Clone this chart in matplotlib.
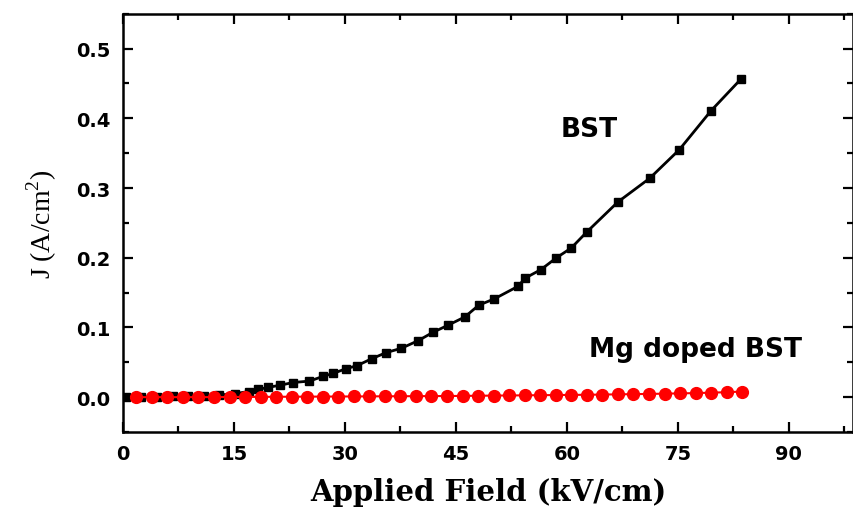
import matplotlib.pyplot as plt
from matplotlib.ticker import MultipleLocator

plt.rcParams['mathtext.fontset'] = 'custom'
plt.rcParams['mathtext.rm'] = 'Liberation Serif'

# BST leakage current density
bst_field = [0.4, 2.5, 4.6, 6.7, 8.8, 10.9, 13.0, 15.1, 17.0, 18.3, 19.6, 21.2,
             23.0, 25.2, 27.1, 28.4, 30.2, 31.6, 33.6, 35.6, 37.6, 39.9, 41.9,
             43.9, 46.2, 48.1, 50.2, 53.4, 54.4, 56.5, 58.6, 60.6, 62.7, 66.9,
             71.2, 75.2, 79.5, 83.5]
bst_j = [0.000, 0.000, 0.0005, 0.001, 0.0015, 0.002, 0.003, 0.005, 0.008, 0.011,
         0.014, 0.017, 0.021, 0.023, 0.030, 0.034, 0.041, 0.045, 0.055, 0.064,
         0.070, 0.081, 0.093, 0.103, 0.115, 0.132, 0.141, 0.159, 0.171, 0.183,
         0.200, 0.214, 0.237, 0.280, 0.314, 0.355, 0.411, 0.456]

# Mg doped BST
mg_field = [1.8, 3.9, 6.0, 8.1, 10.2, 12.3, 14.4, 16.5, 18.6, 20.7, 22.8, 24.9,
            27.0, 29.1, 31.2, 33.3, 35.4, 37.5, 39.6, 41.7, 43.8, 45.9, 48.0,
            50.1, 52.2, 54.3, 56.4, 58.5, 60.6, 62.7, 64.8, 66.9, 69.0, 71.1,
            73.2, 75.3, 77.4, 79.5, 81.6, 83.7]
mg_j = [0.0, 0.0, 0.0, 0.0, 0.0, 0.0001, 0.0002, 0.0003, 0.0004, 0.0005,
        0.0006, 0.0007, 0.0008, 0.0009, 0.0010, 0.0011, 0.0012, 0.0013, 0.0014,
        0.0015, 0.0016, 0.0018, 0.0020, 0.0022, 0.0024, 0.0026, 0.0028, 0.0030,
        0.0032, 0.0034, 0.0037, 0.0040, 0.0043, 0.0046, 0.0050, 0.0054, 0.0058,
        0.0064, 0.0071, 0.0080]

fig = plt.figure(figsize=(8.54, 5.10), dpi=100)
ax = fig.add_axes([0.144, 0.151, 0.855, 0.820])

# black first so the red dots sit on top near zero
ax.plot(bst_field, bst_j, '-s', color='black', markersize=6, linewidth=2)
ax.plot(mg_field, mg_j, '-o', color='red', markersize=8.5, linewidth=1.5)

ax.set_xlim(0, 98.7)
ax.set_ylim(-0.05, 0.55)
ax.xaxis.set_major_locator(MultipleLocator(15))
ax.xaxis.set_minor_locator(MultipleLocator(7.5))
ax.yaxis.set_minor_locator(MultipleLocator(0.05))
ax.set_yticks([0.0, 0.1, 0.2, 0.3, 0.4, 0.5])

ax.tick_params(which='both', direction='in', top=True, right=True, width=1.6)
ax.tick_params(which='major', length=7, pad=9)
ax.tick_params(which='minor', length=4)
for s in ax.spines.values():
    s.set_linewidth(1.8)

for lab in ax.get_xticklabels() + ax.get_yticklabels():
    lab.set_fontfamily('DejaVu Sans')
    lab.set_fontweight('bold')
    lab.set_fontsize(14)

ax.text(63.0, 0.385, 'BST', ha='center', va='center', fontsize=19,
        fontweight='bold', family='DejaVu Sans')
ax.text(77.4, 0.069, 'Mg doped BST', ha='center', va='center', fontsize=19,
        fontweight='bold', family='DejaVu Sans')

ax.set_xlabel('Applied Field (kV/cm)', family='DejaVu Serif',
              fontweight='bold', fontsize=21, labelpad=10)
ax.set_ylabel('J (A/cm$^2$)', family='Liberation Serif', fontsize=20,
              labelpad=12)

fig.savefig('out.png', dpi=100)
